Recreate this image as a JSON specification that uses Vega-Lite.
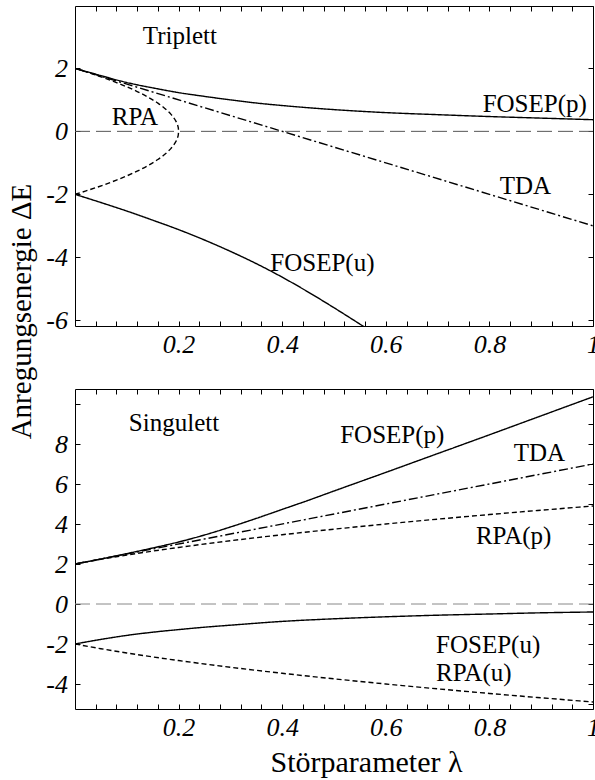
{
  "$schema": "https://vega.github.io/schema/vega-lite/v6.json",
  "padding": {"left": 6, "top": 5, "right": 0, "bottom": 0},
  "spacing": 63,
  "bounds": "flush",
  "resolve": {"scale": {"strokeDash": "independent"}},
  "datasets": {
    "tri": [
      {"c": "FOSEP(p)", "o": 0, "lam": 0, "E": 2},
      {"c": "FOSEP(p)", "o": 1, "lam": 0.05, "E": 1.77},
      {"c": "FOSEP(p)", "o": 2, "lam": 0.1, "E": 1.55},
      {"c": "FOSEP(p)", "o": 3, "lam": 0.15, "E": 1.38},
      {"c": "FOSEP(p)", "o": 4, "lam": 0.2, "E": 1.23},
      {"c": "FOSEP(p)", "o": 5, "lam": 0.25, "E": 1.11},
      {"c": "FOSEP(p)", "o": 6, "lam": 0.3, "E": 1.0},
      {"c": "FOSEP(p)", "o": 7, "lam": 0.35, "E": 0.9},
      {"c": "FOSEP(p)", "o": 8, "lam": 0.4, "E": 0.82},
      {"c": "FOSEP(p)", "o": 9, "lam": 0.5, "E": 0.69},
      {"c": "FOSEP(p)", "o": 10, "lam": 0.6, "E": 0.595},
      {"c": "FOSEP(p)", "o": 11, "lam": 0.7, "E": 0.53},
      {"c": "FOSEP(p)", "o": 12, "lam": 0.8, "E": 0.47},
      {"c": "FOSEP(p)", "o": 13, "lam": 0.9, "E": 0.42},
      {"c": "FOSEP(p)", "o": 14, "lam": 1, "E": 0.37},
      {"c": "FOSEP(u)", "o": 0, "lam": 0, "E": -2},
      {"c": "FOSEP(u)", "o": 1, "lam": 0.05, "E": -2.26},
      {"c": "FOSEP(u)", "o": 2, "lam": 0.1, "E": -2.53},
      {"c": "FOSEP(u)", "o": 3, "lam": 0.15, "E": -2.82},
      {"c": "FOSEP(u)", "o": 4, "lam": 0.2, "E": -3.12},
      {"c": "FOSEP(u)", "o": 5, "lam": 0.25, "E": -3.45},
      {"c": "FOSEP(u)", "o": 6, "lam": 0.3, "E": -3.81},
      {"c": "FOSEP(u)", "o": 7, "lam": 0.35, "E": -4.2},
      {"c": "FOSEP(u)", "o": 8, "lam": 0.4, "E": -4.63},
      {"c": "FOSEP(u)", "o": 9, "lam": 0.45, "E": -5.1},
      {"c": "FOSEP(u)", "o": 10, "lam": 0.5, "E": -5.6},
      {"c": "FOSEP(u)", "o": 11, "lam": 0.55, "E": -6.12},
      {"c": "FOSEP(u)", "o": 12, "lam": 0.6, "E": -6.65},
      {"c": "TDA", "o": 0, "lam": 0, "E": 2},
      {"c": "TDA", "o": 1, "lam": 1, "E": -3},
      {"c": "RPA", "o": 0, "lam": 0, "E": 2},
      {"c": "RPA", "o": 1, "lam": 0.02, "E": 1.897},
      {"c": "RPA", "o": 2, "lam": 0.04, "E": 1.789},
      {"c": "RPA", "o": 3, "lam": 0.06, "E": 1.673},
      {"c": "RPA", "o": 4, "lam": 0.08, "E": 1.549},
      {"c": "RPA", "o": 5, "lam": 0.1, "E": 1.414},
      {"c": "RPA", "o": 6, "lam": 0.12, "E": 1.265},
      {"c": "RPA", "o": 7, "lam": 0.14, "E": 1.095},
      {"c": "RPA", "o": 8, "lam": 0.16, "E": 0.894},
      {"c": "RPA", "o": 9, "lam": 0.17, "E": 0.775},
      {"c": "RPA", "o": 10, "lam": 0.18, "E": 0.632},
      {"c": "RPA", "o": 11, "lam": 0.185, "E": 0.548},
      {"c": "RPA", "o": 12, "lam": 0.19, "E": 0.447},
      {"c": "RPA", "o": 13, "lam": 0.195, "E": 0.316},
      {"c": "RPA", "o": 14, "lam": 0.198, "E": 0.2},
      {"c": "RPA", "o": 15, "lam": 0.1995, "E": 0.1},
      {"c": "RPA", "o": 16, "lam": 0.2, "E": 0},
      {"c": "RPA", "o": 17, "lam": 0.1995, "E": -0.1},
      {"c": "RPA", "o": 18, "lam": 0.198, "E": -0.2},
      {"c": "RPA", "o": 19, "lam": 0.195, "E": -0.316},
      {"c": "RPA", "o": 20, "lam": 0.19, "E": -0.447},
      {"c": "RPA", "o": 21, "lam": 0.185, "E": -0.548},
      {"c": "RPA", "o": 22, "lam": 0.18, "E": -0.632},
      {"c": "RPA", "o": 23, "lam": 0.17, "E": -0.775},
      {"c": "RPA", "o": 24, "lam": 0.16, "E": -0.894},
      {"c": "RPA", "o": 25, "lam": 0.14, "E": -1.095},
      {"c": "RPA", "o": 26, "lam": 0.12, "E": -1.265},
      {"c": "RPA", "o": 27, "lam": 0.1, "E": -1.414},
      {"c": "RPA", "o": 28, "lam": 0.08, "E": -1.549},
      {"c": "RPA", "o": 29, "lam": 0.06, "E": -1.673},
      {"c": "RPA", "o": 30, "lam": 0.04, "E": -1.789},
      {"c": "RPA", "o": 31, "lam": 0.02, "E": -1.897},
      {"c": "RPA", "o": 32, "lam": 0, "E": -2}
    ],
    "triLab": [
      {"t": "Triplett", "lam": 0.131, "E": 2.77},
      {"t": "RPA", "lam": 0.071, "E": 0.19},
      {"t": "FOSEP(p)", "lam": 0.787, "E": 0.6},
      {"t": "TDA", "lam": 0.82, "E": -1.99},
      {"t": "FOSEP(u)", "lam": 0.377, "E": -4.44}
    ],
    "sin": [
      {"c": "FOSEP(p)", "lam": 0, "E": 2},
      {"c": "FOSEP(p)", "lam": 0.05, "E": 2.25},
      {"c": "FOSEP(p)", "lam": 0.1, "E": 2.52},
      {"c": "FOSEP(p)", "lam": 0.15, "E": 2.8},
      {"c": "FOSEP(p)", "lam": 0.2, "E": 3.1},
      {"c": "FOSEP(p)", "lam": 0.25, "E": 3.45},
      {"c": "FOSEP(p)", "lam": 0.3, "E": 3.85},
      {"c": "FOSEP(p)", "lam": 0.35, "E": 4.28},
      {"c": "FOSEP(p)", "lam": 0.4, "E": 4.73},
      {"c": "FOSEP(p)", "lam": 0.45, "E": 5.18},
      {"c": "FOSEP(p)", "lam": 0.5, "E": 5.65},
      {"c": "FOSEP(p)", "lam": 0.6, "E": 6.58},
      {"c": "FOSEP(p)", "lam": 0.7, "E": 7.52},
      {"c": "FOSEP(p)", "lam": 0.8, "E": 8.46},
      {"c": "FOSEP(p)", "lam": 0.9, "E": 9.41},
      {"c": "FOSEP(p)", "lam": 1, "E": 10.36},
      {"c": "FOSEP(u)", "lam": 0, "E": -2},
      {"c": "FOSEP(u)", "lam": 0.05, "E": -1.77},
      {"c": "FOSEP(u)", "lam": 0.1, "E": -1.57},
      {"c": "FOSEP(u)", "lam": 0.15, "E": -1.41},
      {"c": "FOSEP(u)", "lam": 0.2, "E": -1.28},
      {"c": "FOSEP(u)", "lam": 0.25, "E": -1.16},
      {"c": "FOSEP(u)", "lam": 0.3, "E": -1.06},
      {"c": "FOSEP(u)", "lam": 0.4, "E": -0.87},
      {"c": "FOSEP(u)", "lam": 0.5, "E": -0.74},
      {"c": "FOSEP(u)", "lam": 0.6, "E": -0.64},
      {"c": "FOSEP(u)", "lam": 0.7, "E": -0.56},
      {"c": "FOSEP(u)", "lam": 0.8, "E": -0.5},
      {"c": "FOSEP(u)", "lam": 0.9, "E": -0.44},
      {"c": "FOSEP(u)", "lam": 1, "E": -0.4},
      {"c": "TDA", "lam": 0, "E": 2},
      {"c": "TDA", "lam": 1, "E": 7},
      {"c": "RPA(p)", "lam": 0, "E": 2},
      {"c": "RPA(p)", "lam": 0.05, "E": 2.236},
      {"c": "RPA(p)", "lam": 0.1, "E": 2.449},
      {"c": "RPA(p)", "lam": 0.15, "E": 2.646},
      {"c": "RPA(p)", "lam": 0.2, "E": 2.828},
      {"c": "RPA(p)", "lam": 0.3, "E": 3.162},
      {"c": "RPA(p)", "lam": 0.4, "E": 3.464},
      {"c": "RPA(p)", "lam": 0.5, "E": 3.742},
      {"c": "RPA(p)", "lam": 0.6, "E": 4.0},
      {"c": "RPA(p)", "lam": 0.7, "E": 4.243},
      {"c": "RPA(p)", "lam": 0.8, "E": 4.472},
      {"c": "RPA(p)", "lam": 0.9, "E": 4.69},
      {"c": "RPA(p)", "lam": 1, "E": 4.899},
      {"c": "RPA(u)", "lam": 0, "E": -2},
      {"c": "RPA(u)", "lam": 0.05, "E": -2.236},
      {"c": "RPA(u)", "lam": 0.1, "E": -2.449},
      {"c": "RPA(u)", "lam": 0.15, "E": -2.646},
      {"c": "RPA(u)", "lam": 0.2, "E": -2.828},
      {"c": "RPA(u)", "lam": 0.3, "E": -3.162},
      {"c": "RPA(u)", "lam": 0.4, "E": -3.464},
      {"c": "RPA(u)", "lam": 0.5, "E": -3.742},
      {"c": "RPA(u)", "lam": 0.6, "E": -4.0},
      {"c": "RPA(u)", "lam": 0.7, "E": -4.243},
      {"c": "RPA(u)", "lam": 0.8, "E": -4.472},
      {"c": "RPA(u)", "lam": 0.9, "E": -4.69},
      {"c": "RPA(u)", "lam": 1, "E": -4.899}
    ],
    "sinLab": [
      {"t": "Singulett", "lam": 0.104, "E": 8.63},
      {"t": "FOSEP(p)", "lam": 0.512, "E": 8.05},
      {"t": "TDA", "lam": 0.847, "E": 7.13},
      {"t": "RPA(p)", "lam": 0.774, "E": 3.0},
      {"t": "FOSEP(u)", "lam": 0.697, "E": -2.45},
      {"t": "RPA(u)", "lam": 0.697, "E": -3.83}
    ]
  },
  "vconcat": [
    {
      "width": 518,
      "height": 320,
      "layer": [
        {
          "data": {"name": "tri"},
          "mark": {"type": "line", "clip": true, "strokeWidth": 1.4, "color": "black", "interpolate": "monotone"},
          "encoding": {
            "x": {"field": "lam", "type": "quantitative",
              "scale": {"domain": [0, 1], "nice": false, "zero": false},
              "axis": {"orient": "bottom", "title": null,
                "values": [0.04,0.08,0.12,0.16,0.2,0.24,0.28,0.32,0.36,0.4,0.44,0.48,0.52,0.56,0.6,0.64,0.68,0.72,0.76,0.8,0.84,0.88,0.92,0.96,1],
                "labelExpr": "datum.value == 1 ? '1' : (indexof([0.2,0.4,0.6,0.8], datum.value) >= 0 ? format(datum.value, '.1f') : '')"}},
            "y": {"field": "E", "type": "quantitative",
              "scale": {"domain": [-6.18, 3.98], "nice": false, "zero": false},
              "axis": {"orient": "left", "values": [-6, -4, -2, 0, 2],
                "labelExpr": "datum.value < 0 ? '-' + abs(datum.value) : '' + datum.value",
                "title": "Anregungsenergie  ΔE", "titleX": -45, "titleY": 305, "titleAngle": -90,
                "titleAlign": "center", "titleBaseline": "alphabetic"}},
            "strokeDash": {"field": "c", "type": "nominal", "legend": null,
              "scale": {"domain": ["FOSEP(p)", "FOSEP(u)", "TDA", "RPA"], "range": [[1, 0], [1, 0], [9, 3, 2, 3], [5, 3]]}},
            "order": {"field": "o", "type": "quantitative"}
          }
        },
        {
          "data": {"name": "triLab"},
          "mark": {"type": "text", "align": "left", "baseline": "alphabetic", "font": "Liberation Serif", "fontSize": 25, "color": "black"},
          "encoding": {
            "x": {"field": "lam", "type": "quantitative", "axis": null},
            "y": {"field": "E", "type": "quantitative", "axis": null},
            "text": {"field": "t"}
          }
        },
        {
          "data": {"values": [{"lam": 0, "lam2": 1, "E": 0}]},
          "mark": {"type": "rule", "color": "#555555", "strokeDash": [15, 6], "strokeWidth": 1},
          "encoding": {
            "x": {"field": "lam", "type": "quantitative",
              "axis": {"orient": "top", "title": null, "labels": false,
                "values": [0.04,0.08,0.12,0.16,0.2,0.24,0.28,0.32,0.36,0.4,0.44,0.48,0.52,0.56,0.6,0.64,0.68,0.72,0.76,0.8,0.84,0.88,0.92,0.96,1]}},
            "x2": {"field": "lam2"},
            "y": {"field": "E", "type": "quantitative",
              "axis": {"orient": "right", "title": null, "labels": false, "values": [-6, -4, -2, 0, 2]}}
          }
        }
      ]
    },
    {
      "width": 518,
      "height": 320,
      "layer": [
        {
          "data": {"name": "sin"},
          "mark": {"type": "line", "clip": true, "strokeWidth": 1.4, "color": "black", "interpolate": "monotone"},
          "encoding": {
            "x": {"field": "lam", "type": "quantitative",
              "scale": {"domain": [0, 1], "nice": false, "zero": false},
              "axis": {"orient": "bottom",
                "values": [0.04,0.08,0.12,0.16,0.2,0.24,0.28,0.32,0.36,0.4,0.44,0.48,0.52,0.56,0.6,0.64,0.68,0.72,0.76,0.8,0.84,0.88,0.92,0.96,1],
                "labelExpr": "datum.value == 1 ? '1' : (indexof([0.2,0.4,0.6,0.8], datum.value) >= 0 ? format(datum.value, '.1f') : '')",
                "title": "Störparameter   λ", "titleX": 291, "titleY": 62, "titleAlign": "center", "titleBaseline": "alphabetic", "titleFontSize": 30}},
            "y": {"field": "E", "type": "quantitative",
              "scale": {"domain": [-5.25, 10.75], "nice": false, "zero": false},
              "axis": {"orient": "left", "values": [-4, -2, 0, 2, 4, 6, 8, 10], "title": null,
                "labelExpr": "datum.value == 10 ? '' : (datum.value < 0 ? '-' + abs(datum.value) : '' + datum.value)"}},
            "strokeDash": {"field": "c", "type": "nominal", "legend": null,
              "scale": {"domain": ["FOSEP(p)", "FOSEP(u)", "TDA", "RPA(p)", "RPA(u)"], "range": [[1, 0], [1, 0], [9, 3, 2, 3], [5, 3], [5, 3]]}}
          }
        },
        {
          "data": {"name": "sinLab"},
          "mark": {"type": "text", "align": "left", "baseline": "alphabetic", "font": "Liberation Serif", "fontSize": 25, "color": "black"},
          "encoding": {
            "x": {"field": "lam", "type": "quantitative", "axis": null},
            "y": {"field": "E", "type": "quantitative", "axis": null},
            "text": {"field": "t"}
          }
        },
        {
          "data": {"values": [{"lam": 0, "lam2": 1, "E": 0}]},
          "mark": {"type": "rule", "color": "#888888", "strokeDash": [15, 6], "strokeWidth": 1},
          "encoding": {
            "x": {"field": "lam", "type": "quantitative",
              "axis": {"orient": "top", "title": null, "labels": false,
                "values": [0.04,0.08,0.12,0.16,0.2,0.24,0.28,0.32,0.36,0.4,0.44,0.48,0.52,0.56,0.6,0.64,0.68,0.72,0.76,0.8,0.84,0.88,0.92,0.96,1]}},
            "x2": {"field": "lam2"},
            "y": {"field": "E", "type": "quantitative",
              "axis": {"orient": "right", "title": null, "labels": false, "values": [-5,-4,-3,-2,-1,0,1,2,3,4,5,6,7,8,9,10]}}
          }
        }
      ]
    }
  ],
  "config": {
    "font": "Liberation Serif",
    "view": {"stroke": "black", "strokeWidth": 1},
    "axis": {"grid": false, "domain": false, "ticks": true, "tickColor": "black", "tickSize": -5, "tickWidth": 1,
      "labelFont": "Liberation Serif", "labelFontStyle": "italic", "labelFontSize": 26, "labelColor": "black",
      "labelFlush": false, "labelOverlap": false,
      "titleFont": "Liberation Serif", "titleFontSize": 29, "titleFontWeight": "normal", "titleColor": "black"},
    "axisX": {"labelPadding": 10},
    "axisY": {"labelPadding": 12.5}
  }
}
